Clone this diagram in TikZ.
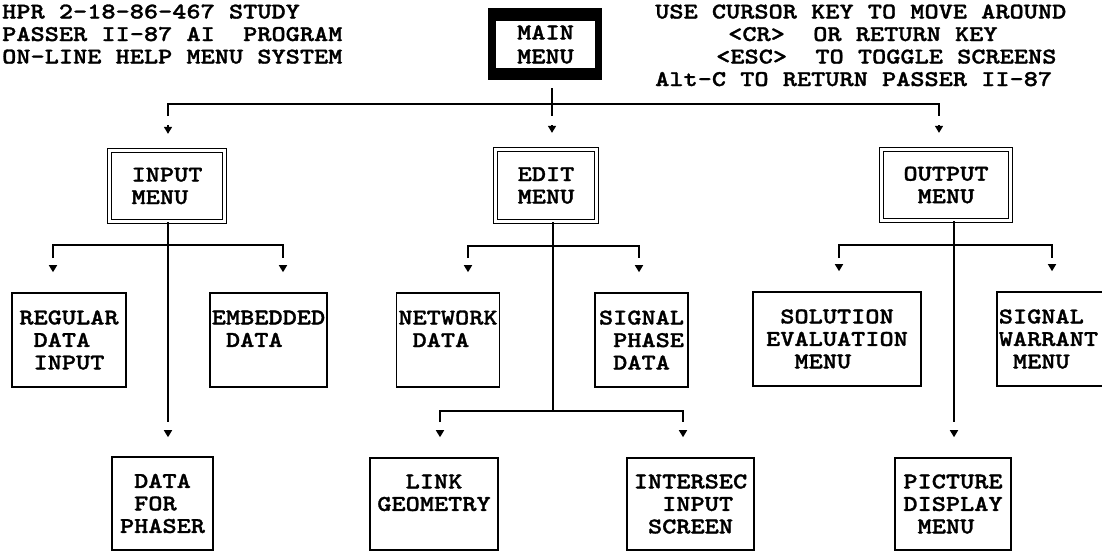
\documentclass[tikz,border=0pt]{standalone}
\usepackage{fontspec}
\newfontfamily\printerfont{lmmonolt10-bold}[Extension=.otf, FakeStretch=1.2, FakeBold=1.3]
\usetikzlibrary{arrows.meta}
\newcommand\blank{\hphantom{X}}
\tikzset{
  every node/.style={font=\printerfont\fontsize{22.5}{22.5}\selectfont, inner sep=1pt},
  wire/.style={line width=1.4pt},
  feed/.style={line width=1.4pt, -{Triangle[length=7pt,width=8pt]}},
  plainbox/.style={draw, line width=1.6pt, align=left, inner sep=2pt},
  menubox/.style={draw, line width=1.3pt, double, double distance=2.6pt, align=left, inner sep=2pt},
  caption/.style={anchor=base west, inner sep=0pt},
}
\begin{document}
\begin{tikzpicture}[x=1pt,y=-1pt]
\useasboundingbox (0,0) rectangle (1102,552);

% header texts
\node[caption] (t1) at (2,18.5) {HPR 2-18-86-467 STUDY};
\node[caption] (t2) at (2,41) {PASSER II-87 AI\ \ PROGRAM};
\node[caption] (t3) at (2,63.5) {ON-LINE HELP MENU SYSTEM};
\node[caption] (h1) at (655,18.5) {USE CURSOR KEY TO MOVE AROUND};
\node[caption] (h2) at (728,41) {<CR>\ \ OR RETURN KEY};
\node[caption] (h3) at (716,63.5) {<ESC>\ \ TO TOGGLE SCREENS};
\node[caption] (h4) at (655,86) {Alt-C TO RETURN PASSER II-87};

% main menu: heavy black frame
\node[fill=black, minimum width=114pt, minimum height=72pt, inner sep=0pt] (main) at (545,44) {};
\node[fill=white, minimum width=99pt, minimum height=47pt, align=left, inner sep=0pt,
      font=\printerfont\fontsize{22.5}{24}\selectfont] (mainlabel) at (545.5,44.5) {MAIN\\MENU};

% second level menus
\node[menubox, minimum width=115pt, minimum height=71pt] (input) at (167,186) {INPUT\\MENU};
\node[menubox, minimum width=101pt, minimum height=72pt] (edit) at (546,185.5) {EDIT\\MENU};
\node[menubox, minimum width=129pt, minimum height=71pt] (output) at (946,185) {OUTPUT\\\blank MENU};

% third level screens
\node[plainbox, minimum width=114pt, minimum height=94pt] (reg) at (69,340) {REGULAR\\\blank DATA\\\blank INPUT};
\node[plainbox, minimum width=115pt, minimum height=94pt] (emb) at (268.5,340) {EMBEDDED\\\blank DATA\\\mbox{}};
\node[plainbox, minimum width=102pt, minimum height=94pt] (net) at (448,340) {NETWORK\\\blank DATA\\\mbox{}};
\node[plainbox, minimum width=93pt, minimum height=94pt] (sig) at (641.5,340) {SIGNAL\\\blank PHASE\\\blank DATA};
\node[plainbox, minimum width=168pt, minimum height=94pt] (sol) at (837,339) {\blank SOLUTION\\EVALUATION\\\blank\blank MENU};
\node[plainbox, minimum width=117pt, minimum height=94pt] (war) at (1055.5,339) {SIGNAL\\WARRANT\blank\\\blank MENU};

% fourth level screens
\node[plainbox, minimum width=101pt, minimum height=93pt] (pha) at (162.5,503.5) {\blank DATA\\\blank FOR\\PHASER};
\node[plainbox, minimum width=128pt, minimum height=92pt] (link) at (434,504) {\blank\blank LINK\\GEOMETRY\\\mbox{}};
\node[plainbox, minimum width=127pt, minimum height=92pt] (inter) at (690.5,504) {INTERSEC\\\blank\blank INPUT\\\blank SCREEN};
\node[plainbox, minimum width=116pt, minimum height=92pt] (pic) at (953,504) {PICTURE\\DISPLAY\\\blank MENU};

% branch points and line ends
\coordinate (j0) at (552,104);
\coordinate (d0L) at (168,116);
\coordinate (d0C) at (552,116);
\coordinate (d0R) at (939,116);

\coordinate (b1) at (168,245);
\coordinate (d1a) at (53,258);
\coordinate (d1b) at (283,258);
\coordinate (dIn) at (168,422);

\coordinate (b2) at (553,246);
\coordinate (d2a) at (468,258);
\coordinate (d2b) at (639,258);
\coordinate (b3) at (553,411);
\coordinate (d3a) at (440,422);
\coordinate (d3b) at (683,422);

\coordinate (b4) at (954,245);
\coordinate (d4a) at (839,258);
\coordinate (d4b) at (1052,258);
\coordinate (dOut) at (954,422);

% main menu to the three menus
\draw[wire] (d0C |- main.south) ++(0,8) -- (d0C);
\draw[wire] (d0L) |- (j0) -| (d0R);
\draw[feed, shorten <=9pt, shorten >=16pt] (d0L) -- (d0L |- input.north);
\draw[feed, shorten <=9pt, shorten >=16pt] (d0C) -- (d0C |- edit.north);
\draw[feed, shorten <=9pt, shorten >=16pt] (d0R) -- (d0R |- output.north);

% input menu branches
\draw[wire] (dIn |- input.south) -- (dIn);
\draw[wire] (d1a) |- (b1) -| (d1b);
\draw[feed, shorten <=7pt, shorten >=20pt] (d1a) -- (d1a |- reg.north);
\draw[feed, shorten <=7pt, shorten >=20pt] (d1b) -- (d1b |- emb.north);
\draw[feed, shorten <=9pt, shorten >=19pt] (dIn) -- (dIn |- pha.north);

% edit menu branches
\draw[wire] (b3 |- edit.south) -- (b3);
\draw[wire] (d2a) |- (b2) -| (d2b);
\draw[wire] (d3a) |- (b3) -| (d3b);
\draw[feed, shorten <=7pt, shorten >=20pt] (d2a) -- (d2a |- net.north);
\draw[feed, shorten <=7pt, shorten >=20pt] (d2b) -- (d2b |- sig.north);
\draw[feed, shorten <=9pt, shorten >=20pt] (d3a) -- (d3a |- link.north);
\draw[feed, shorten <=9pt, shorten >=20pt] (d3b) -- (d3b |- inter.north);

% output menu branches
\draw[wire] (dOut |- output.south) -- (dOut);
\draw[wire] (d4a) |- (b4) -| (d4b);
\draw[feed, shorten <=7pt, shorten >=20pt] (d4a) -- (d4a |- sol.north);
\draw[feed, shorten <=7pt, shorten >=20pt] (d4b) -- (d4b |- war.north);
\draw[feed, shorten <=9pt, shorten >=20pt] (dOut) -- (dOut |- pic.north);
\end{tikzpicture}
\end{document}
